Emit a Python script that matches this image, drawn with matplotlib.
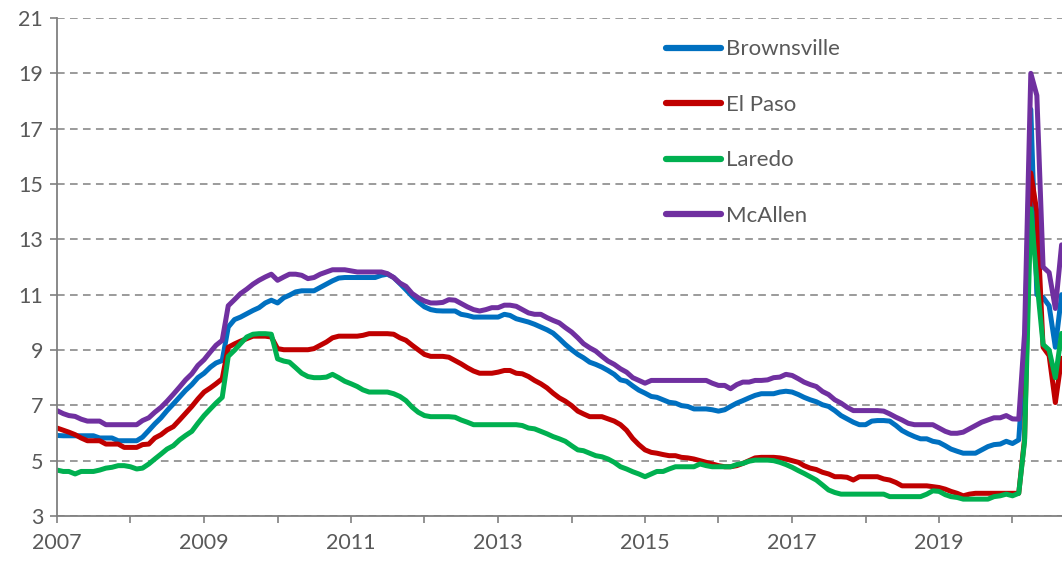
import numpy as np
import pandas as pd
import matplotlib
matplotlib.use("Agg")
import matplotlib.pyplot as plt

# Monthly unemployment rate (%), Jan 2007 - Sep 2020
months = pd.date_range("2007-01-01", periods=165, freq="MS")

brownsville = [
    5.91, 5.9, 5.9, 5.9, 5.9, 5.9, 5.9, 5.82, 5.82, 5.82, 5.72, 5.72,
    5.72, 5.72, 5.85, 6.09, 6.33, 6.55, 6.81, 7.05, 7.3, 7.54, 7.75, 8.0,
    8.16, 8.38, 8.53, 8.62, 9.83, 10.1, 10.19, 10.31, 10.43, 10.53, 10.7, 10.8,
    10.7, 10.89, 10.98, 11.1, 11.14, 11.14, 11.14, 11.26, 11.38, 11.5, 11.6, 11.62,
    11.62, 11.62, 11.62, 11.62, 11.62, 11.7, 11.74, 11.62, 11.4, 11.18, 10.94, 10.74,
    10.56, 10.46, 10.42, 10.41, 10.41, 10.41, 10.29, 10.25, 10.19, 10.19, 10.19, 10.19,
    10.19, 10.29, 10.25, 10.13, 10.07, 10.01, 9.93, 9.83, 9.73, 9.61, 9.41, 9.2,
    9.01, 8.84, 8.72, 8.56, 8.48, 8.38, 8.26, 8.12, 7.92, 7.87, 7.7, 7.55,
    7.44, 7.32, 7.29, 7.2, 7.11, 7.08, 6.99, 6.96, 6.87, 6.87, 6.87, 6.84,
    6.79, 6.84, 6.96, 7.08, 7.17, 7.27, 7.36, 7.42, 7.42, 7.42, 7.48, 7.51,
    7.48, 7.39, 7.29, 7.2, 7.13, 7.02, 6.96, 6.81, 6.63, 6.51, 6.39, 6.3,
    6.3, 6.43, 6.45, 6.45, 6.43, 6.27, 6.09, 5.97, 5.87, 5.79, 5.79, 5.7,
    5.66, 5.54, 5.42, 5.34, 5.27, 5.27, 5.27, 5.39, 5.51, 5.58, 5.6, 5.7,
    5.62, 5.75, 8.8, 17.7, 11.0, 10.9, 10.6, 9.1, 11.0,
]

el_paso = [
    6.18, 6.1, 6.03, 5.94, 5.82, 5.72, 5.72, 5.72, 5.6, 5.6, 5.6, 5.48,
    5.48, 5.48, 5.58, 5.6, 5.82, 5.94, 6.11, 6.23, 6.47, 6.71, 6.96, 7.23,
    7.48, 7.63, 7.78, 7.96, 9.1, 9.22, 9.32, 9.41, 9.5, 9.5, 9.5, 9.47,
    9.05, 9.01, 9.01, 9.01, 9.01, 9.01, 9.05, 9.17, 9.29, 9.44, 9.5, 9.5,
    9.5, 9.5, 9.53, 9.59, 9.59, 9.59, 9.59, 9.57, 9.44, 9.35, 9.17, 9.01,
    8.84, 8.77, 8.77, 8.77, 8.74, 8.62, 8.5, 8.36, 8.24, 8.16, 8.16, 8.16,
    8.2, 8.26, 8.26, 8.16, 8.14, 8.04, 7.9, 7.78, 7.63, 7.44, 7.27, 7.15,
    6.99, 6.79, 6.69, 6.59, 6.59, 6.59, 6.51, 6.43, 6.3, 6.1, 5.8, 5.58,
    5.39, 5.3, 5.27, 5.22, 5.18, 5.18, 5.12, 5.1, 5.06, 5.0, 4.94, 4.88,
    4.82, 4.78, 4.78, 4.82, 4.9, 5.0, 5.1, 5.12, 5.12, 5.12, 5.1, 5.06,
    5.0, 4.94, 4.82, 4.73, 4.68, 4.58, 4.52, 4.42, 4.42, 4.4, 4.3, 4.42,
    4.42, 4.42, 4.42, 4.34, 4.3, 4.21, 4.09, 4.09, 4.09, 4.09, 4.09, 4.06,
    4.03, 3.97, 3.89, 3.82, 3.73, 3.79, 3.82, 3.82, 3.82, 3.82, 3.82, 3.82,
    3.82, 3.82, 5.8, 15.4, 14.0, 9.1, 8.8, 7.1, 8.7,
]

laredo = [
    4.66, 4.61, 4.61, 4.52, 4.61, 4.61, 4.61, 4.66, 4.73, 4.76, 4.82, 4.82,
    4.78, 4.7, 4.73, 4.88, 5.06, 5.24, 5.42, 5.54, 5.75, 5.91, 6.06, 6.35,
    6.63, 6.87, 7.08, 7.29, 8.77, 8.99, 9.23, 9.47, 9.57, 9.59, 9.59, 9.57,
    8.68, 8.6, 8.56, 8.36, 8.16, 8.04, 8.0, 8.0, 8.02, 8.12, 8.0, 7.87,
    7.78, 7.68, 7.56, 7.48, 7.48, 7.48, 7.48, 7.42, 7.32, 7.17, 6.93, 6.75,
    6.63, 6.59, 6.59, 6.59, 6.59, 6.57, 6.47, 6.39, 6.3, 6.3, 6.3, 6.3,
    6.3, 6.3, 6.3, 6.3, 6.27, 6.18, 6.15, 6.06, 5.97, 5.87, 5.79, 5.7,
    5.54, 5.39, 5.36, 5.27, 5.18, 5.14, 5.06, 4.94, 4.78, 4.7, 4.6, 4.52,
    4.42, 4.52, 4.61, 4.61, 4.7, 4.78, 4.78, 4.78, 4.78, 4.88, 4.82, 4.78,
    4.78, 4.78, 4.78, 4.86, 4.9, 4.98, 5.02, 5.02, 5.02, 5.0, 4.94, 4.86,
    4.76, 4.64, 4.54, 4.42, 4.3, 4.12, 3.94, 3.85, 3.79, 3.79, 3.79, 3.79,
    3.79, 3.79, 3.79, 3.79, 3.7, 3.7, 3.7, 3.7, 3.7, 3.7, 3.79, 3.91,
    3.89, 3.77, 3.7, 3.67, 3.61, 3.61, 3.61, 3.61, 3.61, 3.7, 3.73, 3.79,
    3.73, 3.82, 5.7, 14.1, 11.5, 9.2, 9.0, 8.0, 9.6,
]

mcallen = [
    6.81, 6.7, 6.63, 6.6, 6.5, 6.43, 6.43, 6.43, 6.3, 6.3, 6.3, 6.3,
    6.3, 6.3, 6.45, 6.55, 6.75, 6.93, 7.15, 7.4, 7.66, 7.92, 8.14, 8.44,
    8.65, 8.93, 9.17, 9.35, 10.6, 10.82, 11.04, 11.2, 11.38, 11.52, 11.64, 11.74,
    11.52, 11.64, 11.74, 11.74, 11.7, 11.58, 11.62, 11.74, 11.82, 11.9, 11.9, 11.9,
    11.86, 11.82, 11.82, 11.82, 11.82, 11.82, 11.76, 11.62, 11.42, 11.3, 11.04, 10.89,
    10.77, 10.7, 10.7, 10.72, 10.82, 10.8, 10.68, 10.56, 10.46, 10.41, 10.46, 10.53,
    10.53, 10.62, 10.62, 10.58, 10.46, 10.34, 10.29, 10.29, 10.17, 10.07, 9.98, 9.81,
    9.65, 9.44, 9.23, 9.08, 8.96, 8.77, 8.6, 8.48, 8.32, 8.2, 8.0, 7.9,
    7.8, 7.9, 7.9, 7.9, 7.9, 7.9, 7.9, 7.9, 7.9, 7.9, 7.9, 7.8,
    7.72, 7.72, 7.6, 7.75, 7.84, 7.84, 7.9, 7.9, 7.92, 8.0, 8.02, 8.12,
    8.08, 7.96, 7.84, 7.75, 7.68, 7.5, 7.39, 7.2, 7.08, 6.93, 6.81, 6.81,
    6.81, 6.81, 6.81, 6.79, 6.69, 6.57, 6.47, 6.35, 6.3, 6.3, 6.3, 6.3,
    6.18, 6.06, 5.99, 5.99, 6.03, 6.15, 6.27, 6.39, 6.47, 6.55, 6.55, 6.63,
    6.51, 6.5, 9.6, 19.0, 18.2, 12.0, 11.8, 10.5, 12.8,
]

series = [
    ("Brownsville", brownsville, "#0070C0"),
    ("El Paso", el_paso, "#C00000"),
    ("Laredo", laredo, "#00B050"),
    ("McAllen", mcallen, "#7030A0"),
]

plt.rcParams["font.family"] = ["Lato", "DejaVu Sans"]
grey = "#808080"
text_grey = "#595959"

fig = plt.figure(figsize=(10.62, 5.61), dpi=100)
ax = fig.add_axes([57 / 1062, 45 / 561, 1 - 57 / 1062, 498 / 561])

for name, vals, col in series:
    ax.plot(months, vals, color=col, lw=3.6, label=name,
            solid_joinstyle="round", solid_capstyle="round")

# ejes y ticks
ax.set_ylim(3, 21)
ax.set_yticks(np.arange(3, 22, 2))
ax.set_xlim(pd.Timestamp("2007-01-01"), pd.Timestamp("2020-09-03"))
year_ticks = pd.date_range("2007-01-01", "2020-01-01", freq="YS")
ax.set_xticks(year_ticks)
ax.set_xticklabels([str(d.year) if d.year % 2 == 1 else "" for d in year_ticks])

ax.yaxis.grid(True, color=grey, linestyle=(0, (5, 3.5)), linewidth=1.1)
ax.set_axisbelow(True)

for side in ["top", "right"]:
    ax.spines[side].set_visible(False)
for side in ["left", "bottom"]:
    ax.spines[side].set_color(grey)
    ax.spines[side].set_linewidth(1.3)

ax.tick_params(axis="both", colors=grey, length=5, width=1.2,
               labelsize=15.5, labelcolor=text_grey)
ax.tick_params(axis="x", pad=7)
ax.tick_params(axis="y", pad=5)

# leyenda sin marco arriba a la derecha
leg = ax.legend(loc="upper left", bbox_to_anchor=(0.597, 0.975), frameon=False,
                fontsize=16, labelspacing=1.6, handlelength=2.5,
                handletextpad=0.2, borderaxespad=0)
for t in leg.get_texts():
    t.set_color(text_grey)
for h in leg.get_lines():
    h.set_linewidth(4.5)
    h.set_solid_capstyle("round")

fig.savefig("out.png", dpi=100)
